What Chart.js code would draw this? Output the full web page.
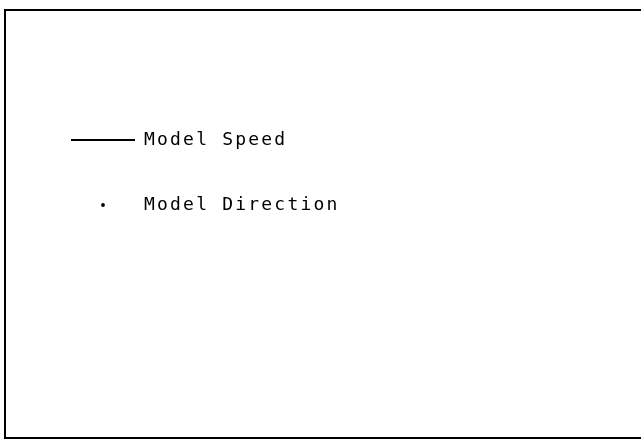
<!DOCTYPE html>
<html>
<head>
<meta charset="utf-8">
<script src="https://cdn.jsdelivr.net/npm/chart.js@4"></script>
<style>
  html, body { margin: 0; padding: 0; background: #fff; }
  canvas { display: block; }
</style>
</head>
<body>
<canvas id="legend-chart" width="641" height="441"></canvas>
<script>
// Serie (tylko legenda, brak punktów na wykresie)
const seriesNames = ['Model Speed', 'Model Direction'];
const speedValues = [];
const directionValues = [];

const LETTER_SPACING = '2.2px';

// Mała kropka jako styl punktu w legendzie
const dotCanvas = document.createElement('canvas');
dotCanvas.width = 4;
dotCanvas.height = 4;
const dctx = dotCanvas.getContext('2d');
dctx.fillStyle = '#000';
dctx.beginPath();
dctx.arc(2, 2, 1.9, 0, Math.PI * 2);
dctx.fill();

// Ramka + odstępy liter (również przy pomiarze legendy)
const framePlugin = {
    id: 'frame',
    beforeLayout: (chart) => {
        chart.ctx.letterSpacing = LETTER_SPACING;
    },
    beforeDraw: (chart) => {
        const ctx = chart.ctx;
        ctx.save();
        ctx.strokeStyle = '#000';
        ctx.lineWidth = 2;
        ctx.beginPath();
        ctx.moveTo(641, 10);
        ctx.lineTo(5, 10);
        ctx.lineTo(5, 438);
        ctx.lineTo(641, 438);
        ctx.stroke();
        ctx.restore();
        ctx.letterSpacing = LETTER_SPACING;
    }
};

const chart = new Chart(document.getElementById('legend-chart'), {
    type: 'line',
    data: {
        datasets: [
            {
                label: seriesNames[0],
                data: speedValues,
                borderColor: '#000',
                borderWidth: 2,
                pointRadius: 0
            },
            {
                label: seriesNames[1],
                data: directionValues,
                showLine: false,
                pointRadius: 2,
                backgroundColor: '#000',
                borderColor: '#000'
            }
        ]
    },
    options: {
        responsive: false,
        animation: false,
        layout: { padding: { left: 24, top: 0, right: 0, bottom: 0 } },
        scales: {
            x: { type: 'linear', display: false },
            y: { display: false }
        },
        plugins: {
            tooltip: { enabled: false },
            legend: {
                position: 'chartArea',
                align: 'start',
                // pusty tytuł = odstęp od góry
                title: {
                    display: true,
                    text: '',
                    font: { size: 10, lineHeight: 1 },
                    padding: { top: 74, bottom: 0 }
                },
                labels: {
                    usePointStyle: true,
                    pointStyleWidth: 64,
                    padding: 47,
                    color: '#000',
                    font: { family: 'DejaVu Sans Mono', size: 18 },
                    generateLabels: (c) => c.data.datasets.map((ds, i) => ({
                        text: ds.label,
                        datasetIndex: i,
                        hidden: false,
                        fontColor: '#000',
                        fillStyle: '#000',
                        strokeStyle: '#000',
                        lineWidth: i === 0 ? 2 : 0,
                        pointStyle: i === 0 ? 'line' : dotCanvas
                    }))
                }
            }
        }
    },
    plugins: [framePlugin]
});
</script>
</body>
</html>
